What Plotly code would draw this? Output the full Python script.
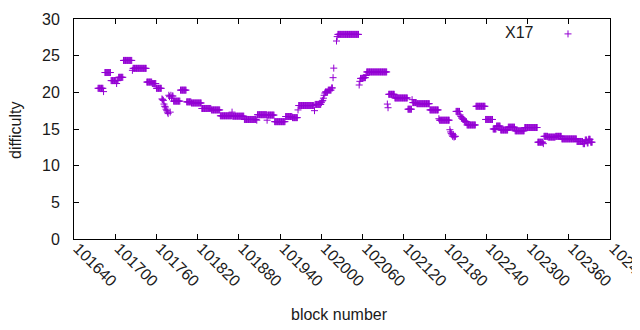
import plotly.graph_objects as go

# Runs of constant difficulty: block offsets from 101640 (inclusive) and value
BASE_BLOCK = 101640
run_start = [35, 43, 45, 54, 62, 63, 65, 72, 85, 86, 106, 114, 120, 128, 129, 130, 131, 132, 133, 134,
             135, 136, 137, 138, 139, 140, 141, 142, 143, 145, 155, 164, 171, 186, 200, 213, 225, 230,
             231, 248, 266, 267, 281, 282, 292, 308, 318, 326, 327, 350, 351, 360, 361, 362, 363, 364,
             365, 366, 370, 375, 377, 378, 382, 383, 384, 415, 416, 417, 421, 425, 426, 456, 457, 458,
             467, 486, 492, 493, 499, 518, 531, 532, 547, 548, 549, 550, 551, 552, 553, 554, 556, 562,
             563, 564, 566, 568, 570, 572, 585, 599, 610, 615, 621, 632, 642, 656, 675, 683, 684, 690,
             701, 710, 732, 741, 744, 747, 749, 752]
run_end = [42, 43, 53, 61, 62, 64, 71, 84, 85, 105, 113, 119, 127, 128, 129, 130, 131, 132, 133, 134,
           135, 136, 137, 138, 139, 140, 141, 142, 144, 154, 163, 170, 185, 199, 212, 224, 229, 230,
           247, 265, 266, 280, 281, 291, 307, 317, 325, 326, 349, 350, 359, 360, 361, 362, 363, 364,
           365, 369, 374, 376, 377, 378, 382, 383, 414, 415, 416, 420, 424, 425, 455, 456, 457, 466,
           485, 491, 492, 498, 517, 530, 531, 546, 547, 548, 549, 550, 551, 552, 553, 555, 561, 562,
           563, 565, 567, 569, 571, 584, 598, 609, 614, 620, 631, 641, 655, 674, 682, 683, 689, 700,
           709, 731, 740, 743, 746, 748, 751, 754]
run_value = [20.55, 20.1, 22.7, 21.6, 21.2, 21.6, 22.05, 24.35, 23.0, 23.27, 21.4, 21.2, 20.55, 19.1,
             19.0, 18.9, 18.4, 18.1, 18.0, 17.7, 17.5, 17.3, 17.1, 19.6, 19.4, 17.3, 19.6, 19.2, 19.5,
             18.8, 20.3, 18.7, 18.55, 17.8, 17.6, 16.8, 16.8, 17.3, 16.75, 16.3, 16.2, 16.95, 16.2,
             16.9, 16.0, 16.7, 16.55, 17.6, 18.2, 17.5, 18.35, 18.6, 18.8, 18.9, 19.2, 19.6, 19.9,
             20.05, 20.3, 20.6, 22.0, 23.3, 27.0, 27.6, 27.9, 21.0, 21.5, 21.9, 22.0, 22.3, 22.78,
             18.4, 17.9, 19.73, 19.23, 17.7, 19.0, 18.6, 18.45, 17.6, 16.4, 16.2, 14.9, 14.6, 14.4,
             14.2, 14.0, 14.2, 13.9, 14.0, 17.4, 16.9, 16.7, 16.5, 16.3, 16.1, 16.0, 15.55, 18.1,
             16.3, 15.0, 15.4, 14.86, 15.25, 14.75, 15.2, 13.2, 13.0, 14.0, 13.9, 14.0, 13.65, 13.3,
             13.0, 13.5, 13.1, 13.6, 13.2]

x_ticks = [101640 + 60 * i for i in range(14)]
y_ticks = [0, 5, 10, 15, 20, 25, 30]
series_name = "X17"

blocks, diffs = [], []
for s, e, v in zip(run_start, run_end, run_value):
    for b in range(s, e + 1):
        blocks.append(BASE_BLOCK + b)
        diffs.append(v)

COLOR = "#9400d3"
FONT = "Liberation Sans, Arial, sans-serif"
TXT = "#1a1a1a"

# The page body has an 8px default margin, so the figure is drawn at (8, 8).
OFF = 8
W, H = 640, 330 - 2 * OFF
L, T = 74 - OFF, 19 - OFF
PW, PH = 536, 220
R, B = W - L - PW, H - T - PH

def px_to_paper(px, py):
    # px, py are window pixel coordinates
    return (px - OFF - L) / PW, (T + PH - (py - OFF)) / PH

fig = go.Figure()
fig.add_trace(go.Scatter(
    x=blocks, y=diffs, mode="markers", name=" ",
    marker=dict(symbol="cross-thin", size=5, color=COLOR,
                line=dict(width=1, color=COLOR)),
    cliponaxis=False,
))

axis_common = dict(showline=True, linecolor="black", linewidth=1, mirror="ticks",
                   ticks="inside", ticklen=5, tickcolor="black", showgrid=False,
                   zeroline=False, automargin=False,
                   tickfont=dict(family=FONT, size=16, color=TXT))

fig.update_xaxes(range=[101640, 102420], tickvals=x_ticks,
                 ticktext=[str(v) for v in x_ticks], tickangle=45,
                 ticklabeloverflow="allow", ticklabelshift=4, ticklabelstandoff=-7,
                 **axis_common)
fig.update_yaxes(range=[0, 30], tickvals=y_ticks, ticklabelstandoff=10, **axis_common)

ax, ay = px_to_paper(15, 130)
bx, by = px_to_paper(339, 314)
cx, cy = px_to_paper(519, 32)
lx, ly = px_to_paper(548, 17)

fig.update_layout(
    width=W, height=H,
    margin=dict(l=L, r=R, t=T, b=B, autoexpand=False),
    paper_bgcolor="white", plot_bgcolor="white",
    showlegend=True,
    legend=dict(x=lx, y=ly, xanchor="left", yanchor="top",
                bgcolor="rgba(0,0,0,0)", font=dict(family=FONT, size=16)),
    annotations=[
        dict(text="difficulty", x=ax, y=ay, xref="paper", yref="paper", showarrow=False,
             textangle=-90, xanchor="center", yanchor="middle",
             font=dict(family=FONT, size=16, color=TXT)),
        dict(text="block number", x=bx, y=by, xref="paper", yref="paper", showarrow=False,
             xanchor="center", yanchor="middle",
             font=dict(family=FONT, size=16, color=TXT)),
        dict(text=series_name, x=cx, y=cy, xref="paper", yref="paper", showarrow=False,
             xanchor="center", yanchor="middle",
             font=dict(family=FONT, size=16, color=TXT)),
    ],
)

fig.write_html("out.html")
